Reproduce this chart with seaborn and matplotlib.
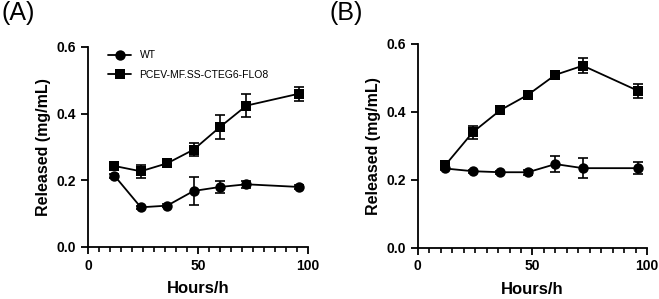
import numpy as np
import pandas as pd
import matplotlib
matplotlib.use("Agg")
import matplotlib.pyplot as plt
from matplotlib.ticker import NullLocator, FormatStrFormatter
import seaborn as sns

# Datos
horas = [12, 24, 36, 48, 60, 72, 96]
grupos = ["WT", "PCEV-MF.SS-CTEG6-FLO8"]

wt_a = [0.214, 0.119, 0.124, 0.168, 0.180, 0.188, 0.180]
wt_a_err = [0.006, 0.004, 0.004, 0.041, 0.019, 0.010, 0.005]
pcev_a = [0.243, 0.227, 0.251, 0.292, 0.360, 0.424, 0.460]
pcev_a_err = [0.008, 0.020, 0.008, 0.020, 0.037, 0.035, 0.021]

wt_b = [0.233, 0.225, 0.222, 0.222, 0.246, 0.234, 0.234]
wt_b_err = [0.005, 0.004, 0.004, 0.007, 0.024, 0.029, 0.017]
pcev_b = [0.243, 0.340, 0.405, 0.450, 0.509, 0.536, 0.462]
pcev_b_err = [0.008, 0.019, 0.008, 0.012, 0.006, 0.022, 0.021]

sns.set_style("ticks")
plt.rcParams['font.family'] = ['Liberation Sans', 'DejaVu Sans']
plt.rcParams['text.color'] = 'black'
plt.rcParams['axes.labelcolor'] = 'black'
plt.rcParams['xtick.color'] = 'black'
plt.rcParams['ytick.color'] = 'black'


def armar_tabla(wt, wt_err, pcev, pcev_err):
    return pd.DataFrame({
        "Hours/h": horas * 2,
        "val": wt + pcev,
        "err": wt_err + pcev_err,
        "grupo": [grupos[0]] * len(horas) + [grupos[1]] * len(horas),
    })


def dibujar_panel(ax, df, leyenda):
    sns.lineplot(data=df, x="Hours/h", y="val", style="grupo", style_order=grupos,
                 markers={grupos[0]: "o", grupos[1]: "s"}, dashes=False,
                 color="black", linewidth=1.3, markersize=7.5, markeredgewidth=0,
                 ax=ax, legend=leyenda, errorbar=None)
    for g in grupos:
        sub = df[df["grupo"] == g]
        ax.errorbar(sub["Hours/h"], sub["val"], yerr=sub["err"], fmt="none",
                    ecolor="black", elinewidth=1.2, capsize=3.5, capthick=1.2, zorder=1)
    sns.despine(ax=ax)
    ax.set_xlim(0, 100)
    ax.set_ylim(0, 0.6)
    ax.set_xticks([0, 50, 100])
    ax.set_xticks(np.arange(5, 100, 5), minor=True)
    ax.set_yticks([0.0, 0.2, 0.4, 0.6])
    ax.yaxis.set_minor_locator(NullLocator())
    ax.yaxis.set_major_formatter(FormatStrFormatter("%.1f"))
    ax.tick_params(which="major", length=5, width=1.3, labelsize=10, color="black")
    ax.tick_params(axis="x", which="minor", bottom=True, top=False, length=3.5,
                   width=1.2, color="black")
    for lab in ax.get_xticklabels() + ax.get_yticklabels():
        lab.set_fontweight("bold")
    ax.set_xlabel("Hours/h", fontsize=12, fontweight="bold", labelpad=6)
    ax.set_ylabel("Released (mg/mL)", fontsize=11.5, fontweight="bold")
    for s in ["left", "bottom"]:
        ax.spines[s].set_linewidth(1.3)
        ax.spines[s].set_color("black")


fig = plt.figure(figsize=(6.59, 2.99), dpi=100)
ax_a = fig.add_axes([0.1335, 0.174, 0.334, 0.669])
ax_b = fig.add_axes([0.634, 0.172, 0.348, 0.681])

dibujar_panel(ax_a, armar_tabla(wt_a, wt_a_err, pcev_a, pcev_a_err), True)
dibujar_panel(ax_b, armar_tabla(wt_b, wt_b_err, pcev_b, pcev_b_err), False)

ax_a.legend(loc="upper left", bbox_to_anchor=(0.05, 1.03), frameon=False,
            fontsize=7.5, handlelength=2.2, labelspacing=0.9, title=None)

fig.text(0.002, 0.995, "(A)", fontsize=18, va="top", ha="left")
fig.text(0.5, 0.995, "(B)", fontsize=18, va="top", ha="left")

fig.savefig("out.png", dpi=100)
